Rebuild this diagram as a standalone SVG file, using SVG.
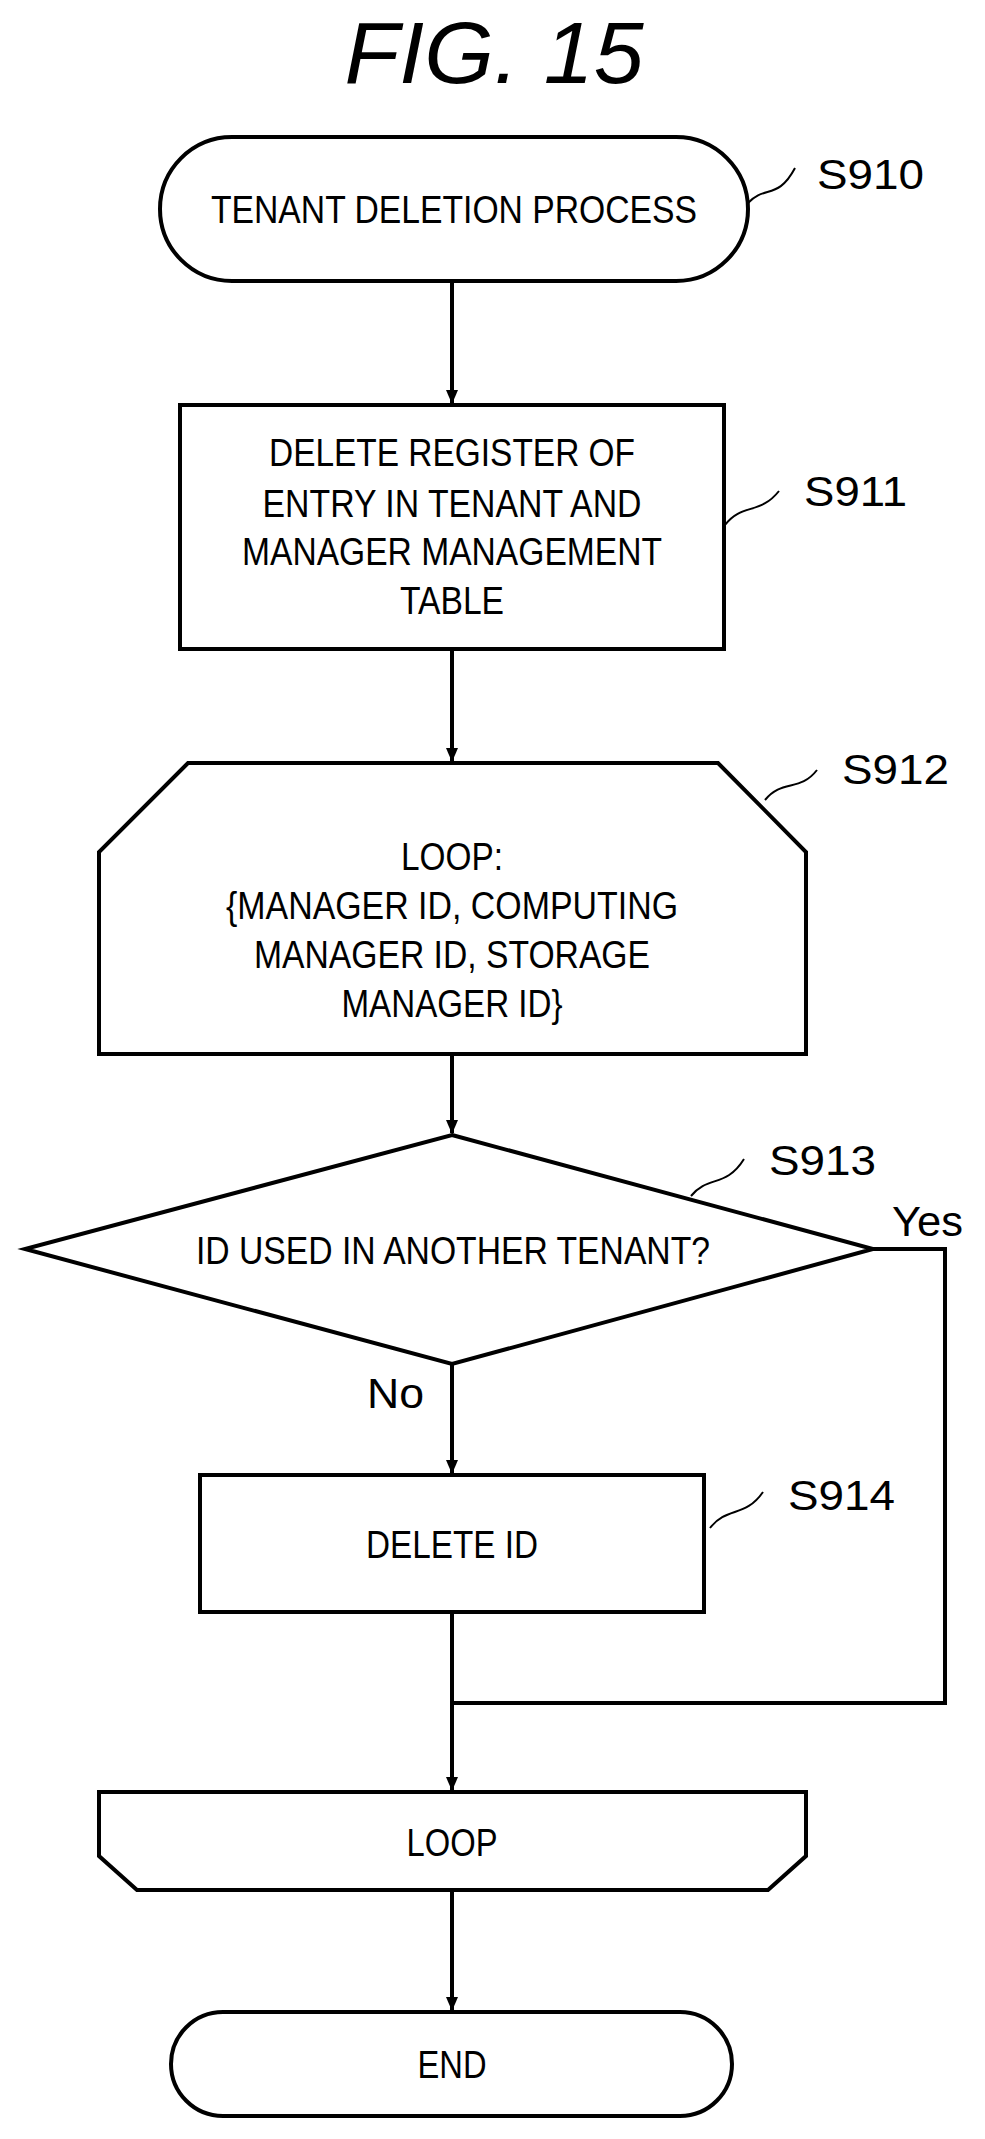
<svg xmlns="http://www.w3.org/2000/svg" width="985" height="2139" viewBox="0 0 985 2139">
<style>
.s{fill:#fff;stroke:#000;stroke-width:4}
.t{font-family:"Liberation Sans",Arial,sans-serif;font-size:38px;text-anchor:middle;fill:#000}
.l{font-family:"Liberation Sans",Arial,sans-serif;font-size:42px;fill:#000}
.c{fill:none;stroke:#000;stroke-width:4}
.q{fill:none;stroke:#000;stroke-width:2}
</style>
<defs><marker id="a" markerWidth="14" markerHeight="12" refX="13" refY="6" orient="auto" markerUnits="userSpaceOnUse" viewBox="0 0 14 12"><path d="M0,0 L14,6 L0,12 Z" fill="#000"/></marker></defs>
<rect width="985" height="2139" fill="#fff"/>
<text x="494" y="83" font-family="Liberation Sans,Arial,sans-serif" font-size="88" font-style="italic" text-anchor="middle" textLength="299" lengthAdjust="spacingAndGlyphs">FIG. 15</text>
<g id="connectors">
<line class="c" x1="452" y1="281" x2="452" y2="403" marker-end="url(#a)"/>
<line class="c" x1="452" y1="651" x2="452" y2="761" marker-end="url(#a)"/>
<line class="c" x1="452" y1="1054" x2="452" y2="1133" marker-end="url(#a)"/>
<line class="c" x1="452" y1="1364" x2="452" y2="1473" marker-end="url(#a)"/>
<polyline class="c" points="873,1249 945,1249 945,1703 452,1703"/>
<line class="c" x1="452" y1="1612" x2="452" y2="1790" marker-end="url(#a)"/>
<line class="c" x1="452" y1="1890" x2="452" y2="2010" marker-end="url(#a)"/>
<text class="l" x="892" y="1236" textLength="71" lengthAdjust="spacingAndGlyphs">Yes</text>
<text class="l" x="367" y="1408" textLength="57" lengthAdjust="spacingAndGlyphs">No</text>
</g>
<g id="S910">
<rect class="s" x="160" y="137" width="588" height="144" rx="72"/>
<text class="t" x="454" y="223" textLength="486" lengthAdjust="spacingAndGlyphs">TENANT DELETION PROCESS</text>
<path class="q" d="M748,203 C765,185 778,200 795,168"/>
<text class="l" x="817" y="189" textLength="107" lengthAdjust="spacingAndGlyphs">S910</text>
</g>
<g id="S911">
<rect class="s" x="180" y="405" width="544" height="244" stroke-width="5"/>
<text class="t" x="452" y="466" textLength="366" lengthAdjust="spacingAndGlyphs">DELETE REGISTER OF</text>
<text class="t" x="452" y="517" textLength="379" lengthAdjust="spacingAndGlyphs">ENTRY IN TENANT AND</text>
<text class="t" x="452" y="565" textLength="420" lengthAdjust="spacingAndGlyphs">MANAGER MANAGEMENT</text>
<text class="t" x="452" y="614" textLength="104" lengthAdjust="spacingAndGlyphs">TABLE</text>
<path class="q" d="M725,525 C742,503 760,515 779,491"/>
<text class="l" x="804" y="506" textLength="103" lengthAdjust="spacingAndGlyphs">S911</text>
</g>
<g id="S912">
<polygon class="s" points="188,763 718,763 806,852 806,1054 99,1054 99,852"/>
<text class="t" x="452" y="870" textLength="102" lengthAdjust="spacingAndGlyphs">LOOP:</text>
<text class="t" x="452" y="919" textLength="452" lengthAdjust="spacingAndGlyphs">{MANAGER ID, COMPUTING</text>
<text class="t" x="452" y="968" textLength="396" lengthAdjust="spacingAndGlyphs">MANAGER ID, STORAGE</text>
<text class="t" x="452" y="1017" textLength="221" lengthAdjust="spacingAndGlyphs">MANAGER ID}</text>
<path class="q" d="M765,800 C782,779 800,792 817,770"/>
<text class="l" x="842" y="784" textLength="107" lengthAdjust="spacingAndGlyphs">S912</text>
</g>
<g id="S913">
<polygon class="s" points="452,1135 873,1249 452,1364 25,1249"/>
<text class="t" x="453" y="1264" textLength="514" lengthAdjust="spacingAndGlyphs">ID USED IN ANOTHER TENANT?</text>
<path class="q" d="M691,1196 C708,1175 726,1188 744,1159"/>
<text class="l" x="769" y="1175" textLength="107" lengthAdjust="spacingAndGlyphs">S913</text>
</g>
<g id="S914">
<rect class="s" x="200" y="1475" width="504" height="137"/>
<text class="t" x="452" y="1558" textLength="172" lengthAdjust="spacingAndGlyphs">DELETE ID</text>
<path class="q" d="M710,1528 C727,1506 745,1518 763,1492"/>
<text class="l" x="788" y="1510" textLength="107" lengthAdjust="spacingAndGlyphs">S914</text>
</g>
<g id="loopend">
<polygon class="s" points="99,1792 806,1792 806,1856 768,1890 137,1890 99,1856"/>
<text class="t" x="452" y="1856" textLength="91" lengthAdjust="spacingAndGlyphs">LOOP</text>
</g>
<g id="end">
<rect class="s" x="171" y="2012" width="561" height="104" rx="52"/>
<text class="t" x="452" y="2078" textLength="69" lengthAdjust="spacingAndGlyphs">END</text>
</g>
</svg>
